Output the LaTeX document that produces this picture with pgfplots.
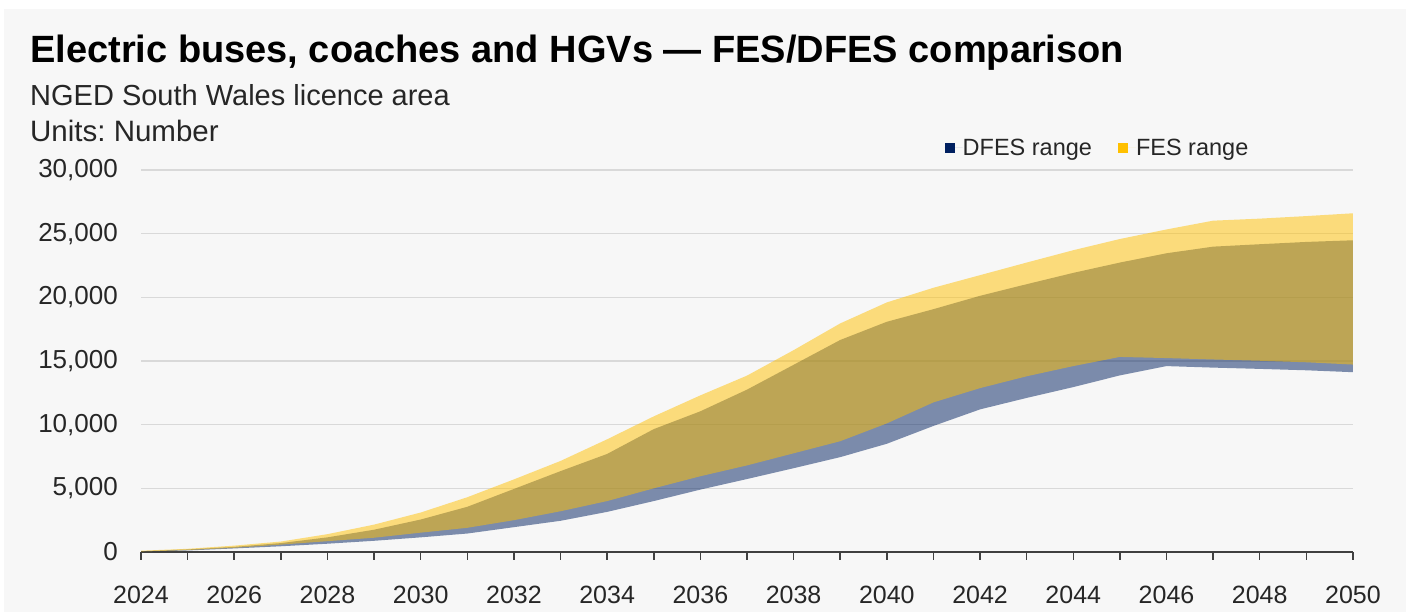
\documentclass[border=0pt]{standalone}
\usepackage{fontspec}
\setmainfont{Liberation Sans}
\usepackage{pgfplots}
\usepackage{pgfplotstable}
\pgfplotsset{compat=1.18}
\definecolor{navy}{HTML}{002060}
\definecolor{gold}{HTML}{FFC000}
\definecolor{bgc}{HTML}{F7F7F7}
\definecolor{gridc}{HTML}{D9D9D9}
\definecolor{axc}{HTML}{404040}
\definecolor{txt}{HTML}{262626}
\frenchspacing

% DFES range: upper bound 2024->2050, then lower bound 2050->2024
\pgfplotstableread{
year v
2024 60
2025 200
2026 400
2027 700
2028 1150
2029 1750
2030 2550
2031 3550
2032 4950
2033 6350
2034 7700
2035 9650
2036 11050
2037 12750
2038 14700
2039 16650
2040 18080
2041 19070
2042 20120
2043 21030
2044 21920
2045 22730
2046 23460
2047 23980
2048 24170
2049 24350
2050 24480
2050 14120
2049 14270
2048 14380
2047 14480
2046 14600
2045 13870
2044 12950
2043 12100
2042 11200
2041 9900
2040 8500
2039 7450
2038 6580
2037 5730
2036 4900
2035 4000
2034 3150
2033 2450
2032 1950
2031 1450
2030 1150
2029 880
2028 650
2027 450
2026 280
2025 120
2024 20
}\dfes

% FES range: upper bound 2024->2050, then lower bound 2050->2024
\pgfplotstableread{
year v
2024 100
2025 250
2026 500
2027 820
2028 1400
2029 2150
2030 3100
2031 4300
2032 5700
2033 7150
2034 8850
2035 10650
2036 12300
2037 13850
2038 15850
2039 17950
2040 19600
2041 20750
2042 21740
2043 22730
2044 23700
2045 24580
2046 25330
2047 26020
2048 26180
2049 26380
2050 26600
2050 14720
2049 14900
2048 15020
2047 15120
2046 15230
2045 15320
2044 14600
2043 13800
2042 12870
2041 11750
2040 10100
2039 8700
2038 7750
2037 6800
2036 5950
2035 5000
2034 4000
2033 3200
2032 2500
2031 1900
2030 1520
2029 1120
2028 850
2027 580
2026 330
2025 150
2024 30
}\fes

\begin{document}
\begin{tikzpicture}
\path[use as bounding box, fill=white] (0,0) rectangle (1406pt,612pt);
\fill[bgc] (4pt,0) rectangle (1406pt,603pt);
\node[anchor=base west, inner sep=0, font=\bfseries\fontsize{38}{42}\selectfont] at (30pt,549pt) {Electric buses, coaches and HGVs — FES/DFES comparison};
\node[anchor=base west, inner sep=0, text=txt, font=\fontsize{29}{33}\selectfont] at (30pt,506pt) {NGED South Wales licence area};
\node[anchor=base west, inner sep=0, text=txt, font=\fontsize{29.5}{33}\selectfont] at (30pt,470pt) {Units: Number};
\begin{axis}[
  at={(141pt,60pt)}, anchor=south west, scale only axis,
  width=1212pt, height=382pt,
  xmin=2024, xmax=2050, ymin=0, ymax=30000,
  axis x line*=bottom, axis y line*=left,
  x axis line style={axc, line width=2pt, -},
  y axis line style={draw=none},
  ytick={0,5000,10000,15000,20000,25000,30000},
  xtick={2024,2026,2028,2030,2032,2034,2036,2038,2040,2042,2044,2046,2048,2050},
  minor xtick={2025,2027,2029,2031,2033,2035,2037,2039,2041,2043,2045,2047,2049},
  xtick pos=bottom,
  xtick align=outside,
  major tick length=8pt, minor tick length=8pt,
  every x tick/.style={draw=axc, line width=1.5pt},
  every minor x tick/.style={draw=axc, line width=1.5pt},
  every y tick/.style={draw=none},
  ymajorgrids,
  grid style={gridc, line width=1.5pt},
  scaled y ticks=false,
  /pgf/number format/assume math mode=true,
  xticklabel style={/pgf/number format/1000 sep={}, font=\fontsize{25}{29}\selectfont, text=txt, inner sep=0pt, anchor=north, yshift=-26pt},
  yticklabel style={/pgf/number format/1000 sep={,}, /pgf/number format/fixed, font=\fontsize{26}{30}\selectfont, text=txt, inner sep=0pt, anchor=east, xshift=-23pt},
  legend style={at={(axis description cs:0.6605,1.058)}, anchor=west, draw=none, fill=none, font=\fontsize{23.5}{27}\selectfont, text=txt, legend columns=2, nodes={inner sep=0pt}, /tikz/every even column/.append style={column sep=26pt}},
]
\addplot[fill=navy, fill opacity=0.5, draw=none,
  legend image code/.code={\fill[navy, fill opacity=1] (0pt,-5pt) rectangle (10pt,5pt); \path (0pt,0pt) -- (18pt,0pt);}]
  table[x=year,y=v]{\dfes} -- cycle;
\addlegendentry{DFES range}
\addplot[fill=gold, fill opacity=0.5, draw=none,
  legend image code/.code={\fill[gold, fill opacity=1] (0pt,-5pt) rectangle (10pt,5pt); \path (0pt,0pt) -- (18pt,0pt);}]
  table[x=year,y=v]{\fes} -- cycle;
\addlegendentry{FES range}
\end{axis}
\end{tikzpicture}
\end{document}
